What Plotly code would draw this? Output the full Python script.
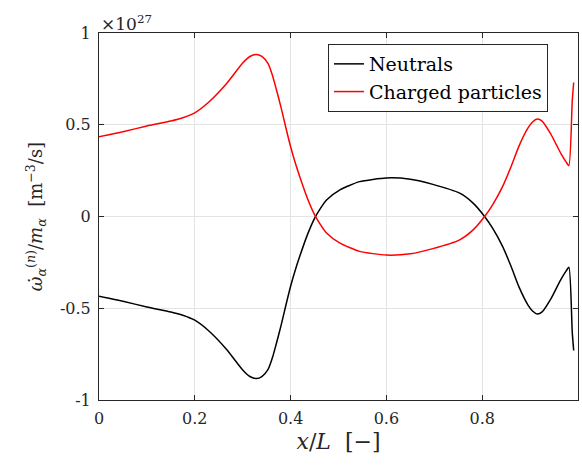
import plotly.graph_objects as go

x_pos = [0.00, 0.05, 0.10, 0.15, 0.175, 0.20, 0.23, 0.266, 0.30, 0.315, 0.3285, 0.34, 0.353, 0.362,
         0.370, 0.38, 0.39, 0.40, 0.41, 0.42, 0.435, 0.45, 0.46, 0.475, 0.503, 0.544, 0.60, 0.65, 0.697,
         0.753, 0.781, 0.805, 0.822, 0.842, 0.86, 0.877, 0.895, 0.905, 0.915, 0.925, 0.943, 0.955,
         0.965, 0.975, 0.981, 0.988, 0.991]

charged = [0.435, 0.462, 0.493, 0.52, 0.538, 0.565, 0.625, 0.723, 0.836, 0.872, 0.883, 0.872, 0.833, 0.77,
           0.695, 0.595, 0.485, 0.38, 0.29, 0.21, 0.10, 0.01, -0.035, -0.09, -0.145, -0.19, -0.21, -0.203, -0.175,
           -0.127, -0.073, 0.0, 0.065, 0.16, 0.27, 0.385, 0.48, 0.515, 0.531, 0.52, 0.45, 0.39,
           0.34, 0.298, 0.277, 0.63, 0.73]

neutrals = [-0.435, -0.462, -0.493, -0.52, -0.538, -0.565, -0.625, -0.723, -0.836, -0.872, -0.883, -0.872, -0.833, -0.77,
            -0.695, -0.595, -0.485, -0.38, -0.29, -0.21, -0.10, -0.01, 0.035, 0.09, 0.145, 0.19, 0.21, 0.203, 0.175,
            0.127, 0.073, 0.0, -0.065, -0.16, -0.27, -0.385, -0.48, -0.515, -0.531, -0.52, -0.45, -0.39,
            -0.34, -0.298, -0.277, -0.63, -0.73]

x_ticks = [0, 0.2, 0.4, 0.6, 0.8, 1]
x_ticktext = ["0", "0.2", "0.4", "0.6", "0.8", "1"]
y_ticks = [-1, -0.5, 0, 0.5, 1]
y_ticktext = ["-1", "-0.5", "0", "0.5", "1"]

FONT = "DejaVu Serif"

fig = go.Figure()
fig.add_trace(go.Scatter(x=x_pos, y=neutrals, mode="lines", name="Neutrals",
                         line=dict(color="black", width=1.5, shape="spline", smoothing=0.6)))
fig.add_trace(go.Scatter(x=x_pos, y=charged, mode="lines", name="Charged particles",
                         line=dict(color="red", width=1.5, shape="spline", smoothing=0.6)))

axis_common = dict(showline=True, linecolor="#262626", linewidth=1, mirror="ticks",
                   ticks="inside", ticklen=5, tickcolor="#262626",
                   showgrid=True, gridcolor="#e3e3e3", gridwidth=1, zeroline=False,
                   tickfont=dict(family=FONT, size=16, color="#262626"))

fig.update_layout(
    width=582, height=475,
    margin=dict(l=99, r=4, t=33, b=75),
    paper_bgcolor="white", plot_bgcolor="white",
    font=dict(family=FONT, color="#262626"),
    xaxis=dict(range=[0, 1], tickvals=x_ticks, ticktext=x_ticktext, ticklabelstandoff=4,
               title=dict(text="<i>x</i>/<i>L</i>  [−]", font=dict(family=FONT, size=22, color="#262626"), standoff=6),
               **axis_common),
    yaxis=dict(range=[-1, 1], tickvals=y_ticks, ticktext=y_ticktext, ticklabelstandoff=4,
               title=dict(text="<i>ω̇</i><sub><i>α</i></sub><sup>(<i>n</i>)</sup>/<i>m</i><sub><i>α</i></sub>  [m<sup>−3</sup>/s]",
                          font=dict(family=FONT, size=18, color="#262626"), standoff=12),
               **axis_common),
    legend=dict(x=0.478, y=0.97, xanchor="left", yanchor="top",
                bgcolor="white", bordercolor="#262626", borderwidth=1,
                font=dict(family=FONT, size=19, color="black"),
                tracegroupgap=0, itemwidth=30),
    showlegend=True,
)

fig.add_annotation(text="×10<sup>27</sup>", xref="paper", yref="paper", x=0.0, y=1.0,
                   xanchor="left", yanchor="bottom", showarrow=False,
                   font=dict(family=FONT, size=17, color="#262626"), xshift=0, yshift=-3)

fig.write_html("out.html")
